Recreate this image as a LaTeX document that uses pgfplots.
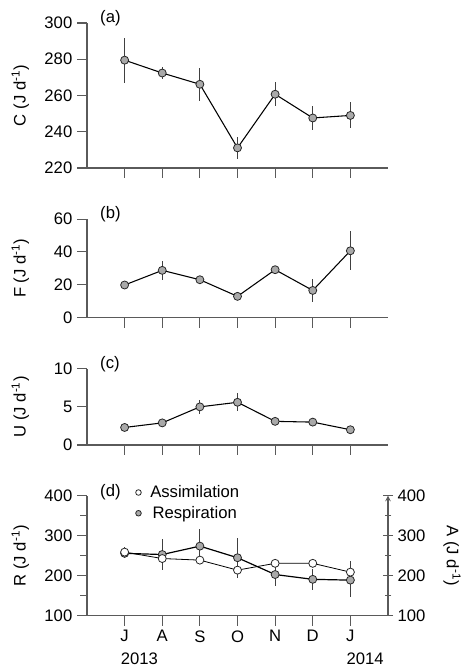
\documentclass[border=0pt]{standalone}
\usepackage{fontspec}
\setmainfont{Liberation Sans}
\usepackage{pgfplots}
\pgfplotsset{compat=1.18}

\definecolor{axgray}{HTML}{5A5A5A}
\definecolor{mkfill}{HTML}{A9A9A9}
\definecolor{ebar}{HTML}{404040}
\newcommand\fsz{\fontsize{12.5}{15}\selectfont}

\pgfplotsset{
  panel/.style={
    scale only axis, width=225.75pt,
    xmin=0, xmax=8,
    axis x line=bottom, axis y line=left,
    axis line style={-, draw=axgray, line width=0.8pt},
    tick align=outside, major tick length=7.5pt, minor tick length=5pt,
    every tick/.style={draw=axgray, line width=0.8pt},
    xtick={1,...,7}, xticklabels={},
    tick label style={font=\fsz},
    /pgf/number format/assume math mode=true,
    clip=false,
    every axis y label/.style={at={(rel axis cs:0,0.5)}, xshift=-50pt, rotate=90, anchor=center, font=\fsz},
  },
  ebars/.style={forget plot, draw=none, mark=none,
    error bars/.cd, y dir=both, y explicit, error mark=none,
    error bar style={draw=ebar, line width=0.8pt}},
  series/.style={black, line width=0.8pt, mark=*, mark size=3pt,
    mark options={fill=mkfill, draw=black!85, line width=0.6pt}},
}
\tikzset{plabel/.style={anchor=west, font=\fsz, inner sep=0pt, yshift=3.5pt}}

\begin{document}
\begin{tikzpicture}
\useasboundingbox (0,0) rectangle (346.5pt,502.5pt);

% (a) consumption
\begin{axis}[panel, at={(65.25pt,376.5pt)}, anchor=south west, height=108.75pt,
  ymin=220, ymax=300, ytick={220,240,...,300},
  ylabel={C (J d\textsuperscript{-1})}]
  \addplot[ebars] coordinates {
    (1,279.5) +- (0,12.4) (2,272.4) +- (0,3.4) (3,266.2) +- (0,9)
    (4,231.1) +- (0,6) (5,260.7) +- (0,6.6) (6,247.6) +- (0,6.8) (7,249) +- (0,7.2)};
  \addplot[series] coordinates {
    (1,279.5) (2,272.4) (3,266.2) (4,231.1) (5,260.7) (6,247.6) (7,249)};
  \node[plabel] at (rel axis cs:0.043,1) {(a)};
\end{axis}

% (b) faeces
\begin{axis}[panel, at={(65.25pt,264.2pt)}, anchor=south west, height=74pt,
  ymin=0, ymax=60, ytick={0,20,40,60},
  ylabel={F (J d\textsuperscript{-1})}]
  \addplot[ebars] coordinates {
    (1,19.9) +- (0,1.2) (2,28.8) +- (0,5.9) (3,23.1) +- (0,2.5)
    (4,13.0) +- (0,2) (5,29.2) +- (0,2.5) (6,16.6) +- (0,6.9) (7,40.7) +- (0,11.9)};
  \addplot[series] coordinates {
    (1,19.9) (2,28.8) (3,23.1) (4,13.0) (5,29.2) (6,16.6) (7,40.7)};
  \node[plabel] at (rel axis cs:0.043,1) {(b)};
\end{axis}

% (c) excretion
\begin{axis}[panel, at={(65.25pt,168.75pt)}, anchor=south west, height=57.2pt,
  ymin=0, ymax=10, ytick={0,5,10},
  ylabel={U (J d\textsuperscript{-1})}]
  \addplot[ebars] coordinates {
    (1,2.3) +- (0,0.2) (2,2.9) +- (0,0.3) (3,5.0) +- (0,0.9)
    (4,5.6) +- (0,1.2) (5,3.1) +- (0,0.3) (6,3.0) +- (0,0.3) (7,2.0) +- (0,0.2)};
  \addplot[series] coordinates {
    (1,2.3) (2,2.9) (3,5.0) (4,5.6) (5,3.1) (6,3.0) (7,2.0)};
  \node[plabel] at (rel axis cs:0.043,1) {(c)};
\end{axis}

% (d) respiration and assimilation
\begin{axis}[panel, at={(65.25pt,40.7pt)}, anchor=south west, height=90pt,
  ymin=100, ymax=400, ytick={100,200,300,400}, minor ytick={150,250,350},
  xticklabels={J,A,S,O,N,D,J},
  ylabel={R (J d\textsuperscript{-1})},
  reverse legend,
  legend style={draw=none, fill=none, font=\fsz, at={(rel axis cs:0.15,1.11)},
    anchor=north west, row sep=1pt, inner sep=0pt},
  legend image code/.code={\path[draw=none, fill=none] (0cm,0cm) -- (0.4cm,0cm);
    \draw[#1, mark size=2.1pt] plot coordinates {(0.16cm,0cm)};}]
  \addplot[ebars] coordinates {
    (1,256) +- (0,10) (2,253) +- (0,38) (3,274) +- (0,42)
    (4,245) +- (0,50) (5,203) +- (0,28) (6,191) +- (0,27) (7,189) +- (0,43)};
  \addplot[ebars] coordinates {
    (1,259) +- (0,14) (2,243) +- (0,15) (3,239) +- (0,8)
    (4,214) +- (0,18) (5,231) +- (0,8) (6,231) +- (0,8) (7,209) +- (0,28)};
  \addplot[series, line width=0.9pt] coordinates {
    (1,256) (2,253) (3,274) (4,245) (5,203) (6,191) (7,189)};
  \addlegendentry{Respiration}
  \addplot[series, line width=0.6pt, mark options={fill=white, draw=black!85, line width=0.6pt}] coordinates {
    (1,259) (2,243) (3,239) (4,214) (5,231) (6,231) (7,209)};
  \addlegendentry{Assimilation}
  \node[plabel, yshift=-0.5pt] at (rel axis cs:0.043,1) {(d)};
  \node[anchor=west, font=\fsz, inner sep=0pt, xshift=-3pt, yshift=-32pt] at (axis cs:1,100) {2013};
  \node[anchor=west, font=\fsz, inner sep=0pt, xshift=-3pt, yshift=-32pt] at (axis cs:7,100) {2014};
\end{axis}

% right-hand axis for assimilation
\begin{axis}[panel, at={(65.25pt,40.7pt)}, anchor=south west, height=90pt,
  axis x line=none, axis y line=right,
  ymin=100, ymax=400, ytick={100,200,300,400}, minor ytick={150,250,350},
  ylabel={A (J d\textsuperscript{-1})},
  every axis y label/.style={at={(rel axis cs:1,0.5)}, xshift=48pt, rotate=-90, anchor=center, font=\fsz}]
\end{axis}
\end{tikzpicture}
\end{document}
